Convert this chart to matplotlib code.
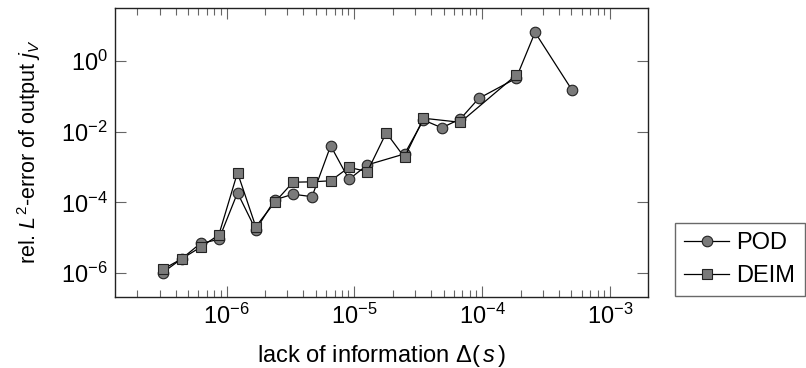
import numpy as np
import matplotlib
matplotlib.use("Agg")
import matplotlib.pyplot as plt
from matplotlib.ticker import LogLocator, FixedLocator, NullFormatter

plt.rcParams['font.family'] = ['Liberation Sans', 'DejaVu Sans']
plt.rcParams['mathtext.fontset'] = 'custom'
plt.rcParams['mathtext.rm'] = 'Liberation Sans'
plt.rcParams['mathtext.it'] = 'Liberation Sans:italic'
plt.rcParams['mathtext.bf'] = 'Liberation Sans:bold'

# log10 of x (lack of information) and y (relative error)
pod_logx = [-6.50, -6.352, -6.203, -6.06, -5.914, -5.771, -5.623, -5.48, -5.331, -5.185,
            -5.042, -4.898, -4.607, -4.459, -4.316, -4.17, -4.027, -3.734, -3.586, -3.297]
pod_logy = [-5.99, -5.60, -5.16, -5.05, -3.73, -4.78, -3.93, -3.77, -3.84, -2.40,
            -3.35, -2.94, -2.63, -1.67, -1.89, -1.64, -1.06, -0.49, 0.81, -0.82]

deim_logx = [-6.50, -6.352, -6.203, -6.06, -5.914, -5.771, -5.623, -5.48, -5.331, -5.185,
             -5.042, -4.898, -4.75, -4.607, -4.459, -4.17, -3.734]
deim_logy = [-5.90, -5.60, -5.27, -4.92, -3.16, -4.69, -4.00, -3.43, -3.42, -3.39,
             -3.01, -3.13, -2.03, -2.73, -1.62, -1.735, -0.40]

pod_x = 10.0 ** np.array(pod_logx)
pod_y = 10.0 ** np.array(pod_logy)
deim_x = 10.0 ** np.array(deim_logx)
deim_y = 10.0 ** np.array(deim_logy)

FS = 17

fig = plt.figure(figsize=(8.06, 3.68), dpi=100)
ax = fig.add_axes([0.1423, 0.1938, 0.8043 - 0.1423, 0.9783 - 0.1938])

fill = '#7a7a7a'
ax.plot(pod_x, pod_y, '-', color='black', lw=0.9, marker='o', ms=7.6,
        mfc=fill, mec='#222222', mew=0.8, label='POD', zorder=3)
ax.plot(deim_x, deim_y, '-', color='black', lw=0.9, marker='s', ms=7.2,
        mfc=fill, mec='#222222', mew=0.8, label='DEIM', zorder=4)

ax.set_xscale('log')
ax.set_yscale('log')
ax.set_xlim(10 ** -6.875, 10 ** -2.70)
ax.set_ylim(10 ** -6.67, 10 ** 1.5)

ax.xaxis.set_major_locator(FixedLocator([1e-6, 1e-5, 1e-4, 1e-3]))
ax.xaxis.set_minor_locator(LogLocator(base=10, subs=np.arange(2, 10), numticks=20))
ax.xaxis.set_minor_formatter(NullFormatter())
ax.yaxis.set_major_locator(FixedLocator([1e-6, 1e-4, 1e-2, 1e0]))
ax.yaxis.set_minor_locator(FixedLocator([]))

ax.tick_params(which='both', direction='in', top=True, right=True, color='#666666', width=0.8)
ax.tick_params(which='major', length=8, labelsize=FS, pad=5)
ax.tick_params(which='minor', length=5)
for s in ax.spines.values():
    s.set_linewidth(1.0)
    s.set_color('#222222')

ax.set_xlabel(r'lack of information $\Delta(\,s\,)$', fontsize=FS, labelpad=10)
ax.set_ylabel(r'rel. $L^2$-error of output $j_V$', fontsize=15.5, labelpad=13)

leg = fig.legend(loc='upper left', bbox_to_anchor=(675 / 806, 1 - 222.7 / 368),
                 fontsize=FS, frameon=True, fancybox=False, handlelength=1.9,
                 handletextpad=0.3, labelspacing=0.45, borderpad=0.4,
                 borderaxespad=0)
leg.get_frame().set_edgecolor('#444444')
leg.get_frame().set_linewidth(1.0)

fig.savefig('out.png', dpi=100)
